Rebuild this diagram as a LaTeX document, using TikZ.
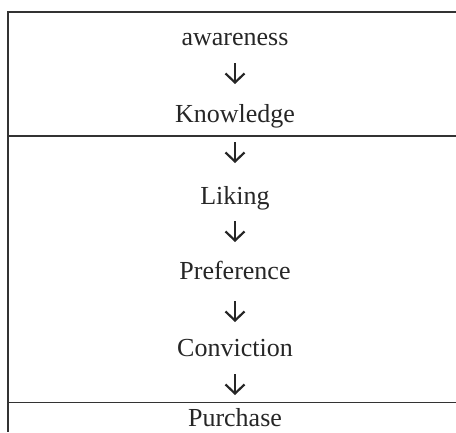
\documentclass[tikz,border=0pt]{standalone}
\usepackage{fontspec}
\setmainfont{Liberation Serif}
\usetikzlibrary{arrows.meta}
\begin{document}
\begin{tikzpicture}[x=1pt,y=-1pt,
  frame/.style={draw=black!80,line width=1.3pt},
  lbl/.style={anchor=base,inner sep=0pt,font=\fontsize{26}{30}\selectfont,text=black!85},
  arr/.style={draw=black!85,line width=2.2pt,-{Straight Barb[length=9pt,width=19pt]}}]
\useasboundingbox (0,0) rectangle (456,432);
% frame
\draw[frame] (456,12) -- (8,12) -- (8,432);
\draw[frame] (8,136) -- (456,136);
\draw[frame] (8,402.5) -- (456,402.5);
% labels
\node[lbl] (t1) at (235,45) {awareness};
\node[lbl] (t2) at (235,122) {Knowledge};
\node[lbl] (t3) at (235,204) {Liking};
\node[lbl] (t4) at (235,279) {Preference};
\node[lbl] (t5) at (235,356) {Conviction};
\node[lbl] (t6) at (235,426) {Purchase};
% arrows
\coordinate (a1s) at (235,63); \coordinate (a1e) at (235,84);
\coordinate (a2s) at (235,142); \coordinate (a2e) at (235,163);
\coordinate (a3s) at (235,221); \coordinate (a3e) at (235,242);
\coordinate (a4s) at (235,301); \coordinate (a4e) at (235,322);
\coordinate (a5s) at (235,374); \coordinate (a5e) at (235,395);
\draw[arr] (a1s) -- (a1e);
\draw[arr] (a2s) -- (a2e);
\draw[arr] (a3s) -- (a3e);
\draw[arr] (a4s) -- (a4e);
\draw[arr] (a5s) -- (a5e);
\end{tikzpicture}
\end{document}
